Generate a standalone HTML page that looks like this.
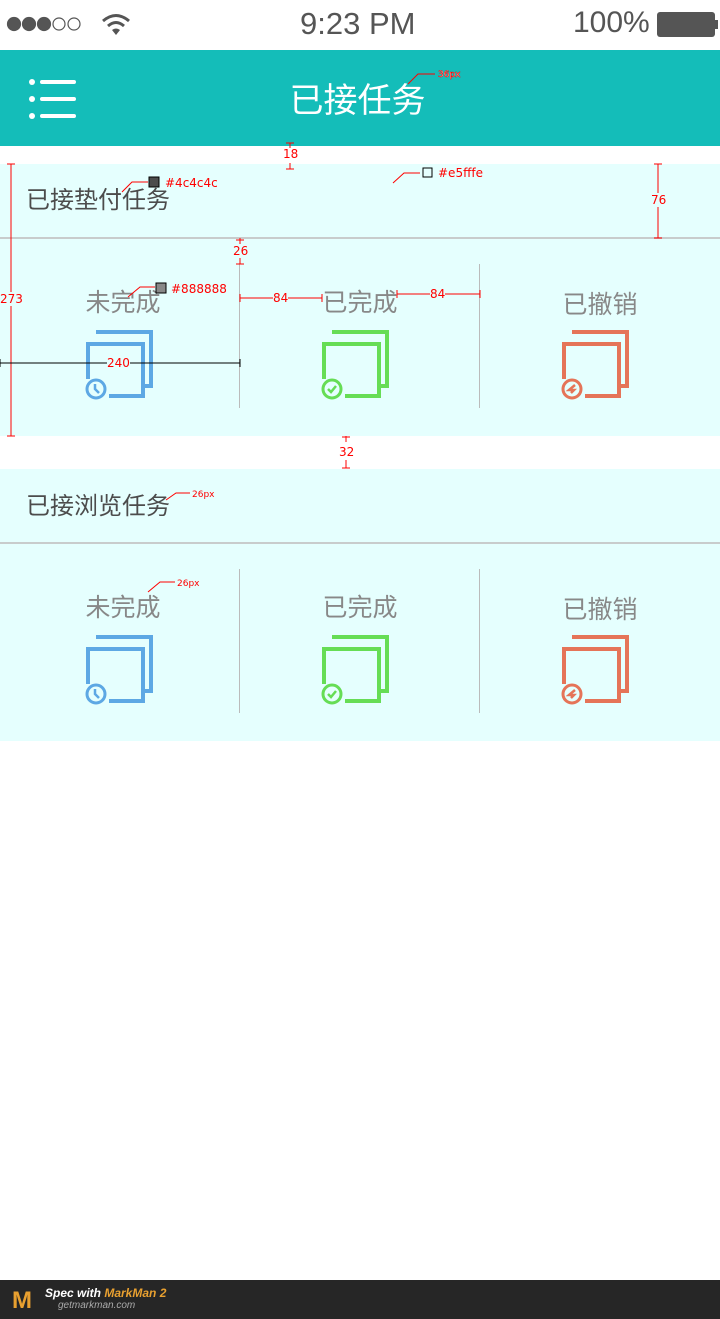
<!DOCTYPE html>
<html><head><meta charset="utf-8"><style>
*{margin:0;padding:0;box-sizing:border-box}
body{width:720px;height:1319px;background:#fff;position:relative;overflow:hidden;font-family:"Liberation Sans","Noto Sans CJK SC",sans-serif}
.a{position:absolute}
.sec{position:absolute;left:0;width:720px;background:#e5fffe}
.h{position:absolute;left:26px;font-size:24px;color:#4c4c4c}
.line{position:absolute;left:0;width:720px;height:2px;background:#c8cccc}
.lab{position:absolute;width:240px;text-align:center;font-size:25px;color:#888}
.div{position:absolute;width:1px;height:144px;background:#bbb}
.r{color:red;font-size:12px;position:absolute;font-family:"DejaVu Sans",sans-serif}
</style></head><body>
<div class="a" style="left:0;top:0;width:720px;height:50px;background:#fff">
  <svg class="a" style="left:5px;top:14px" width="82" height="20"><g fill="#555" stroke="#555" stroke-width="1.2"><circle cx="9" cy="10" r="6.5"/><circle cx="24" cy="10" r="6.5"/><circle cx="39" cy="10" r="6.5"/><circle cx="54" cy="10" r="6" fill="none"/><circle cx="69" cy="10" r="6" fill="none"/></g></svg>
  <svg class="a" style="left:100px;top:12px" width="32" height="26" viewBox="0 0 32 26"><path d="M3 9 Q16 -2 29 9" stroke="#555" stroke-width="3" fill="none"/><path d="M8 14 Q16 7 24 14" stroke="#555" stroke-width="3" fill="none"/><path d="M12 18 L16 23 L20 18 Q16 15 12 18Z" fill="#555"/></svg>
  <div class="a" style="left:300px;top:6px;font-size:31px;color:#555">9:23 PM</div>
  <div class="a" style="left:573px;top:6px;font-size:30px;color:#555">100%</div>
  <div class="a" style="left:657px;top:12px;width:58px;height:25px;background:#555;border-radius:3px"></div>
  <div class="a" style="left:715px;top:20px;width:3px;height:9px;background:#555"></div>
</div>
<div class="a" style="left:0;top:50px;width:720px;height:96px;background:#14bdb9">
  <svg class="a" style="left:28px;top:28px" width="50" height="42"><g fill="#fff"><circle cx="4" cy="4" r="3"/><circle cx="4" cy="21" r="3"/><circle cx="4" cy="38" r="3"/><rect x="12" y="2" width="36" height="4" rx="2"/><rect x="12" y="19" width="36" height="4" rx="2"/><rect x="12" y="36" width="36" height="4" rx="2"/></g></svg>
  <div class="a" style="left:0;width:715px;top:23px;text-align:center;font-size:34px;color:#fff">已接任务</div>
</div>

<div class="sec" style="top:164px;height:272px"></div>
<div class="h" style="top:180px">已接垫付任务</div>
<div class="line" style="top:237px"></div>
<div class="lab" style="left:3px;top:283px">未完成</div>
<div class="lab" style="left:240px;top:283px">已完成</div>
<div class="lab" style="left:480px;top:285px">已撤销</div>
<div class="div" style="left:239px;top:264px"></div>
<div class="div" style="left:479px;top:264px"></div>

<div class="sec" style="top:469px;height:272px"></div>
<div class="h" style="top:486px">已接浏览任务</div>
<div class="line" style="top:542px"></div>
<div class="lab" style="left:3px;top:588px">未完成</div>
<div class="lab" style="left:240px;top:588px">已完成</div>
<div class="lab" style="left:480px;top:590px">已撤销</div>
<div class="div" style="left:239px;top:569px"></div>
<div class="div" style="left:479px;top:569px"></div>

<svg class="a" style="left:0;top:0" width="720" height="760">
<defs>
<g id="sq"><path d="M11 3 H66 V57 H60" fill="none" stroke-width="4"/><path d="M24 67 H58 V15 H3 V50" fill="none" stroke-width="4"/></g>
</defs>
<g transform="translate(85,329)" stroke="#5da8e4"><use href="#sq"/><circle cx="11" cy="60" r="9" fill="#e5fffe" stroke-width="3"/><path d="M10 55 V60 L14 64" fill="none" stroke-width="2.5"/></g>
<g transform="translate(321,329)" stroke="#66dd55"><use href="#sq"/><circle cx="11" cy="60" r="9" fill="#e5fffe" stroke-width="3"/><path d="M7 60 L10 63 L15 57" fill="none" stroke-width="2.5"/></g>
<g transform="translate(561,329)" stroke="#e57458"><use href="#sq"/><circle cx="11" cy="60" r="9" fill="#e5fffe" stroke-width="3"/><path d="M14 56 L8 61 H13 L10 64" fill="none" stroke-width="2.5"/></g>
<g transform="translate(85,634)" stroke="#5da8e4"><use href="#sq"/><circle cx="11" cy="60" r="9" fill="#e5fffe" stroke-width="3"/><path d="M10 55 V60 L14 64" fill="none" stroke-width="2.5"/></g>
<g transform="translate(321,634)" stroke="#66dd55"><use href="#sq"/><circle cx="11" cy="60" r="9" fill="#e5fffe" stroke-width="3"/><path d="M7 60 L10 63 L15 57" fill="none" stroke-width="2.5"/></g>
<g transform="translate(561,634)" stroke="#e57458"><use href="#sq"/><circle cx="11" cy="60" r="9" fill="#e5fffe" stroke-width="3"/><path d="M14 56 L8 61 H13 L10 64" fill="none" stroke-width="2.5"/></g>
<g stroke="red" stroke-width="1" fill="none">
<path d="M11 164 V436 M7 164 H15 M7 436 H15"/>
<path d="M0 363 H240 M0 359 V367 M240 359 V367" stroke="#000"/>
<path d="M290 143 V148 M290 163 V169 M286 143 H294 M286 169 H294"/>
<path d="M658 164 V238 M654 164 H662 M654 238 H662"/>
<path d="M240 238 V244 M240 258 V264 M236 240 H244 M236 264 H244"/>
<path d="M240 298 H322 M240 294 V302 M322 294 V302"/>
<path d="M397 294 H480 M397 290 V298 M480 290 V298"/>
<path d="M346 436 V442 M346 460 V468 M342 437 H350 M342 468 H350"/>
<path d="M122 192 L132 182 H148 M128 297 L140 287 H155 M393 183 L404 173 H420 M408 84 L418 74 H435 M166 500 L176 493 H190 M148 592 L160 582 H175"/>
</g>
<rect x="149" y="177" width="10" height="10" fill="#4c4c4c" stroke="#000"/>
<rect x="156" y="283" width="10" height="10" fill="#888" stroke="#000"/>
<rect x="423" y="168" width="9" height="9" fill="#e5fffe" stroke="#000"/>
</svg>
<div class="r" style="left:165px;top:176px">#4c4c4c</div>
<div class="r" style="left:171px;top:282px">#888888</div>
<div class="r" style="left:438px;top:166px">#e5fffe</div>
<div class="r" style="left:0;top:292px;background:#e5fffe">273</div>
<div class="r" style="left:107px;top:356px;background:#e5fffe">240</div>
<div class="r" style="left:283px;top:147px">18</div>
<div class="r" style="left:651px;top:193px;background:#e5fffe">76</div>
<div class="r" style="left:233px;top:244px;background:#e5fffe">26</div>
<div class="r" style="left:273px;top:291px;background:#e5fffe">84</div>
<div class="r" style="left:430px;top:287px;background:#e5fffe">84</div>
<div class="r" style="left:339px;top:445px">32</div>
<div class="r" style="left:438px;top:70px;font-size:9px;color:#fff;-webkit-text-stroke:0.5px red">36px</div>
<div class="r" style="left:192px;top:490px;font-size:9px">26px</div>
<div class="r" style="left:177px;top:579px;font-size:9px">26px</div>

<div class="a" style="left:0;top:1280px;width:720px;height:39px;background:#262626">
  <div class="a" style="left:12px;top:7px;font-size:24px;font-weight:bold;color:#e8a030">M</div>
  <div class="a" style="left:45px;top:6px;font-size:12px;font-weight:bold;font-style:italic;color:#fff">Spec with <span style="color:#e8a030">MarkMan 2</span></div>
  <div class="a" style="left:58px;top:20px;font-size:10px;font-style:italic;color:#aaa">getmarkman.com</div>
</div>
</body></html>
